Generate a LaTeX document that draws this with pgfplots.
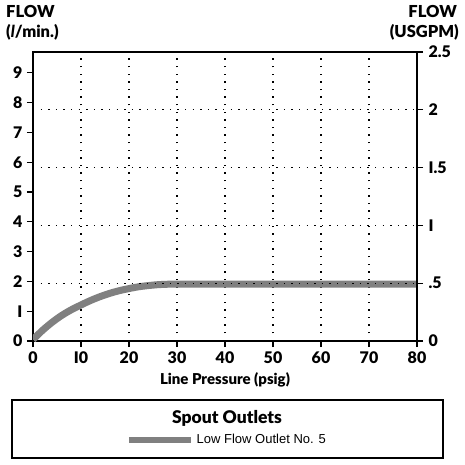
\documentclass[border=0pt]{standalone}
\usepackage{fontspec}
\IfFontExistsTF{Lato Black}{\setmainfont{Lato}[BoldFont={Lato Black}]}{\setmainfont{Lato}[BoldFeatures={FakeBold=1.5}]}
\newfontfamily\arialfont{Liberation Sans}
\usepackage{pgfplots}
\pgfplotsset{compat=1.18}
\definecolor{curvegray}{RGB}{128,128,128}
\begin{document}
\begin{tikzpicture}[x=1pt,y=1pt]
\useasboundingbox (0,0) rectangle (465,464);
% left axis
\begin{axis}[
  at={(33pt,123pt)}, anchor=south west,
  scale only axis, width=384pt, height=289pt,
  xmin=0, xmax=80, ymin=0, ymax=9.7,
  xtick={0,10,...,80}, ytick={0,1,...,9},
  xticklabels={0,I0,20,30,40,50,60,70,80},
  yticklabels={0,I,2,3,4,5,6,7,8,9},
  axis line style={line width=1.4pt},
  tick style={line width=1.2pt, black},
  tick align=outside, major tick length=6pt,
  xtick pos=bottom, ytick pos=left,
  xmajorgrids,
  grid style={line width=1.2pt, black, dash pattern=on 1.4pt off 6.2pt},
  /pgf/number format/assume math mode=true,
  ticklabel style={font=\fontsize{16}{16}\selectfont\bfseries},
  xticklabel style={yshift=-1pt},
  yticklabel style={xshift=-1pt},
  legend style={at={(194pt,-99pt)}, anchor=center, draw=none, fill=none,
    font=\arialfont\fontsize{13}{13}\selectfont, inner sep=0pt},
  legend image code/.code={\draw[line width=5.5pt, curvegray] (0pt,0pt) -- (62pt,0pt);},
  legend cell align=left,
]
\addplot[curvegray, line width=7pt, smooth] coordinates {
 (0,0.05) (2,0.36) (4,0.63) (6,0.86) (8,1.05) (10,1.21) (12,1.36) (14,1.49)
 (16,1.6) (18,1.69) (20,1.76) (22,1.82) (24,1.86) (26,1.89) (28,1.905) (30,1.91)
 (40,1.91) (60,1.91) (80,1.91)};
\addlegendentry{\hspace{1pt}Low Flow Outlet No. 5}
\end{axis}
% right axis
\begin{axis}[
  at={(33pt,123pt)}, anchor=south west,
  scale only axis, width=384pt, height=289pt,
  xmin=0, xmax=80, ymin=0, ymax=2.5,
  axis x line=none, axis y line*=right,
  ytick={0,0.5,1,1.5,2,2.5},
  yticklabels={0,.5,I,I.5,2,2.5},
  axis line style={line width=1.4pt},
  tick style={line width=1.2pt, black},
  tick align=outside, major tick length=6pt,
  ymajorgrids,
  grid style={line width=1.2pt, black, dash pattern=on 1.4pt off 6.2pt},
  /pgf/number format/assume math mode=true,
  ticklabel style={font=\fontsize{16}{16}\selectfont\bfseries},
  yticklabel style={xshift=2pt},
]
\addplot[draw=none] coordinates {(0,0) (80,2.5)};
\end{axis}
% titles
\node[anchor=north west, font=\fontsize{16.5}{16}\selectfont\bfseries, inner sep=0pt] at (6,459) {FLOW};
\node[anchor=north west, font=\fontsize{16.5}{16}\selectfont\bfseries, inner sep=0pt] at (6,440) {(\textit{l}/min.)};
\node[anchor=north east, font=\fontsize{16.5}{16}\selectfont\bfseries, inner sep=0pt] at (457,459) {FLOW};
\node[anchor=north east, font=\fontsize{16.5}{16}\selectfont\bfseries, inner sep=0pt] at (459,440) {(USGPM)};
\node[font=\fontsize{15}{15}\selectfont\bfseries] at (225,84) {Line Pressure (psig)};
% legend box
\draw[line width=1.6pt] (12,6) rectangle (443,64);
\node[font=\fontsize{17.5}{17}\selectfont\bfseries] at (227,46) {Spout Outlets};
\end{tikzpicture}
\end{document}
